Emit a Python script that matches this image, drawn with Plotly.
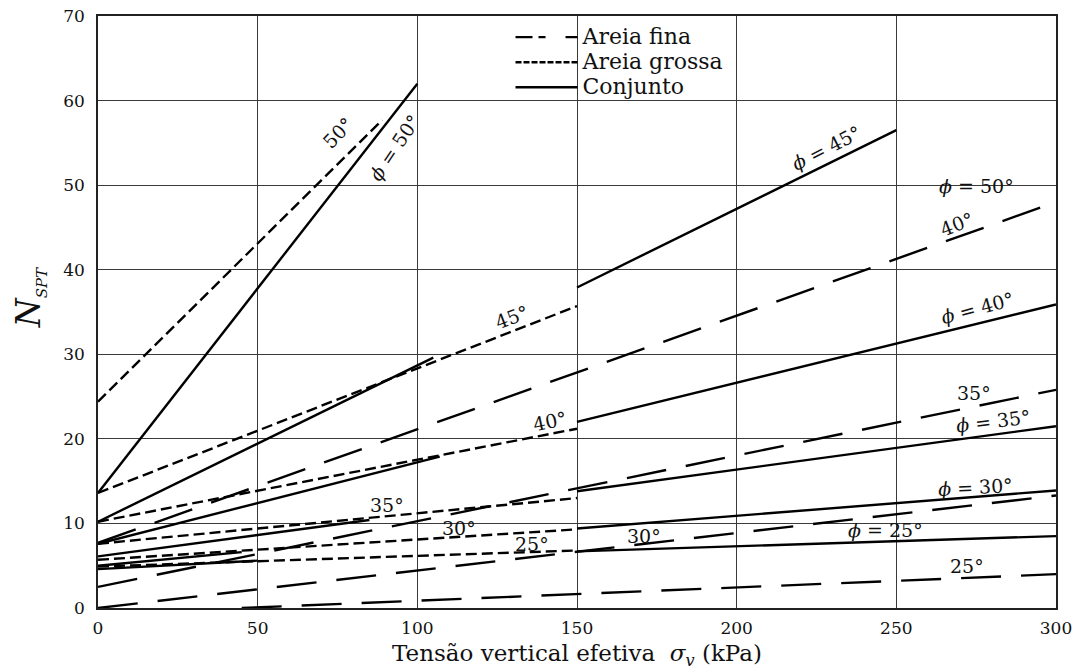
import plotly.graph_objects as go

# ---------------- data ----------------
# Areia fina  (long dashes)
fina_phi = [40, 35, 30, 25]
fina_x = [[0, 300], [0, 300], [0, 300], [45, 300]]
fina_y = [[7.7, 48.0], [2.5, 25.8], [0.0, 13.3], [0.0, 4.0]]

# Areia grossa (short dashes)
grossa_phi = [50, 45, 40, 35, 30, 25]
grossa_x = [[0, 89], [0, 150], [0, 150], [0, 150], [0, 150], [0, 150]]
grossa_y = [[24.4, 57.7], [13.6, 35.7], [10.2, 21.2], [7.6, 13.0], [5.7, 9.3], [4.9, 6.8]]

# Conjunto (solid) - drawn in segments as in the original figure
conj_phi = [50, 45, 45, 40, 40, 35, 35, 30, 30, 25, 25]
conj_x = [[0, 100], [0, 105], [150, 250], [0, 107], [150, 300],
          [0, 85], [150, 300], [0, 45], [150, 300], [0, 50], [150, 300]]
conj_y = [[13.6, 62.0], [10.2, 29.6], [37.9, 56.5], [7.6, 17.9], [22.0, 35.9],
          [6.1, 10.4], [13.8, 21.5], [5.0, 6.6], [9.4, 13.9], [4.6, 5.6], [6.7, 8.5]]

x_ticks = [0, 50, 100, 150, 200, 250, 300]
y_ticks = [0, 10, 20, 30, 40, 50, 60, 70]

# curve labels: (text, sigma, N, angle)
curve_labels = [
    ("50°", 75, 56.2, -46),
    ("<i>ϕ</i> = 50°", 93, 54.5, -56),
    ("<i>ϕ</i> = 45°", 228, 54.4, -27),
    ("<i>ϕ</i> = 50°", 275, 49.9, 0),
    ("40°", 269, 45.4, -21),
    ("45°", 129.6, 34.4, -21),
    ("40°", 141.6, 22.1, -12),
    ("<i>ϕ</i> = 40°", 275.3, 35.5, -15),
    ("35°", 274.3, 25.4, 0),
    ("<i>ϕ</i> = 35°", 280.3, 22.1, -7),
    ("35°", 90.4, 12.2, 0),
    ("30°", 113, 9.5, 0),
    ("25°", 136, 7.6, 0),
    ("30°", 171, 8.5, 0),
    ("<i>ϕ</i> = 30°", 274.7, 14.3, -3),
    ("<i>ϕ</i> = 25°", 246.5, 9.2, 0),
    ("25°", 272, 5.0, 0),
]

legend_names = ["Areia fina", "Areia grossa", "Conjunto"]

SERIF = "DejaVu Serif"
LONG_DASH = "40px,20px"
SHORT_DASH = "11px,5px"
LEGEND_DASHES = ["17px,6px,7px,20px", "6px,2px", "solid"]

fig = go.Figure()

for xs, ys in zip(fina_x, fina_y):
    fig.add_trace(go.Scatter(x=xs, y=ys, mode="lines",
                             line=dict(color="black", width=2.4, dash=LONG_DASH),
                             name="Areia fina", showlegend=False, hoverinfo="skip"))
for xs, ys in zip(grossa_x, grossa_y):
    fig.add_trace(go.Scatter(x=xs, y=ys, mode="lines",
                             line=dict(color="black", width=2.4, dash=SHORT_DASH),
                             name="Areia grossa", showlegend=False, hoverinfo="skip"))
for xs, ys in zip(conj_x, conj_y):
    fig.add_trace(go.Scatter(x=xs, y=ys, mode="lines",
                             line=dict(color="black", width=2.4),
                             name="Conjunto", showlegend=False, hoverinfo="skip"))

# legend entries (no data, only the key)
for name, dash in zip(legend_names, LEGEND_DASHES):
    fig.add_trace(go.Scatter(x=[None], y=[None], mode="lines",
                             line=dict(color="black", width=2.4, dash=dash),
                             name=f"<span style='font-size:22px'>{name}</span>",
                             showlegend=True, hoverinfo="skip"))

annotations = []
for text, sx, sy, ang in curve_labels:
    annotations.append(dict(x=sx, y=sy, xref="x", yref="y", text=text,
                            showarrow=False, textangle=ang,
                            font=dict(family=SERIF, size=19, color="#111")))

# y-axis title
annotations.append(dict(x=-0.095, y=0.525, xref="paper", yref="paper",
                        text="<i>N</i><sub><i><span style='font-size:15px'>SPT</span></i></sub>",
                        showarrow=False, textangle=-90,
                        font=dict(family=SERIF, size=33, color="#111")))

fig.update_layout(
    width=1074, height=662,
    margin=dict(l=90, r=26, t=8, b=62),
    paper_bgcolor="white", plot_bgcolor="white",
    showlegend=True,
    legend=dict(x=0.4306, y=0.994, xanchor="left", yanchor="top",
                bgcolor="rgba(0,0,0,0)", borderwidth=0,
                font=dict(family=SERIF, size=17, color="#111"),
                tracegroupgap=0, itemwidth=62),
    annotations=annotations,
    xaxis=dict(range=[0, 300], tickvals=x_ticks, showgrid=True,
               gridcolor="#3a3a3a", gridwidth=1, zeroline=False,
               showline=True, linecolor="#222", linewidth=1.5, mirror=True,
               ticks="", ticklabelstandoff=4, ticklabeloverflow="allow",
               tickfont=dict(family=SERIF, size=17, color="#111"),
               title=dict(text="Tensão vertical efetiva  <i>σ<sub>v</sub></i> (kPa)",
                          font=dict(family=SERIF, size=23, color="#111"),
                          standoff=16),
               automargin=False),
    yaxis=dict(range=[0, 70], tickvals=y_ticks, showgrid=True,
               gridcolor="#3a3a3a", gridwidth=1, zeroline=False,
               showline=True, linecolor="#222", linewidth=1.5, mirror=True,
               ticks="", ticklabelstandoff=8, ticklabeloverflow="allow",
               tickfont=dict(family=SERIF, size=17, color="#111"),
               automargin=False),
)

fig.write_html("out.html")
